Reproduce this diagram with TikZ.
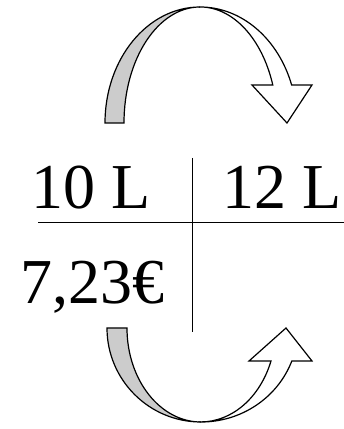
\documentclass[tikz,border=0pt]{standalone}
\usepackage{fontspec}
\setmainfont{Liberation Serif}
\tikzset{
  ribbon/.style={draw, line width=1.2pt, line join=miter},
  backside/.style={ribbon, fill=gray!40},
  frontside/.style={ribbon, fill=white},
  big/.style={font=\fontsize{64}{72}\selectfont, inner sep=0pt, anchor=base}
}
\begin{document}
\begin{tikzpicture}[x=1pt, y=1pt]
  \useasboundingbox (0,0) rectangle (344,429);
  % upper arrow
  \draw[backside] (105,306) arc[start angle=180, end angle=90, x radius=95, y radius=116]
    arc[start angle=90, end angle=180, x radius=76, y radius=116] -- cycle;
  \draw[frontside] (200,422) arc[start angle=90, end angle=19.1, x radius=97, y radius=116]
    -- (312,344) -- (287,306) -- (252,344) -- (272.8,344)
    arc[start angle=19.1, end angle=90, x radius=77, y radius=116] -- cycle;
  % lower arrow
  \draw[backside] (107,101) arc[start angle=180, end angle=270, x radius=94, y radius=94]
    arc[start angle=270, end angle=180, x radius=74, y radius=94] -- cycle;
  \draw[frontside] (201,7) arc[start angle=270, end angle=339.4, x radius=97, y radius=94]
    -- (312,68) -- (286,101) -- (249,68) -- (271,68)
    arc[start angle=339.4, end angle=270, x radius=75, y radius=94] -- cycle;
  % table
  \coordinate (hl) at (38,206.3);
  \coordinate (hr) at (344,206.3);
  \coordinate (vt) at (192.7,271);
  \coordinate (vb) at (192.7,97.3);
  \draw[line width=1.2pt] (hl) -- (hr);
  \draw[line width=1.2pt] (vt) -- (vb);
  \node[big] (ten) at (91,220.7) {10 L};
  \node[big] (twelve) at (282,220.7) {12 L};
  \node[big] (price) at (92.5,125) {7,23€};
\end{tikzpicture}
\end{document}
